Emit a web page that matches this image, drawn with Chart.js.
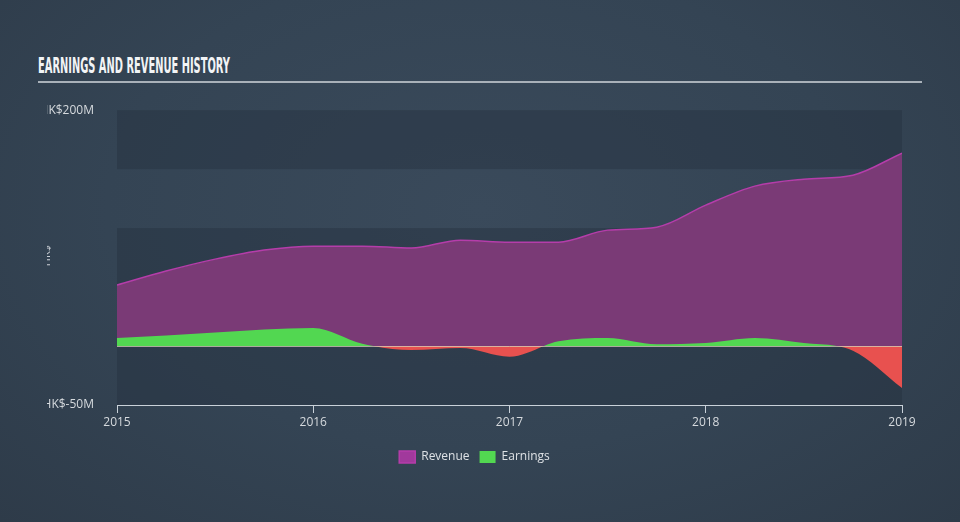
<!DOCTYPE html>
<html>
<head>
<meta charset="utf-8">
<script src="https://cdn.jsdelivr.net/npm/chart.js@4.4.1/dist/chart.umd.min.js"></script>
<style>
  html, body { margin: 0; padding: 0; }
  body {
    width: 960px; height: 522px; overflow: hidden; position: relative;
    background: radial-gradient(ellipse at 50% 40%, #3a4a5b 0%, #344454 55%, #2e3b49 100%);
  }
  #title {
    position: absolute; left: 38px; top: 56px;
    font-family: "Liberation Sans Narrow", "DejaVu Sans Condensed", sans-serif;
    font-weight: bold; font-size: 21px; line-height: 21px;
    color: #f2f4f6; white-space: nowrap; transform-origin: 0 0;
  }
  #rule { position: absolute; left: 38px; top: 81px; width: 884px; height: 2px; background: #a9b1b9; }
  #wrap { position: absolute; left: 47px; top: 88px; width: 913px; height: 385px; }
</style>
</head>
<body>
<div id="title">EARNINGS AND REVENUE HISTORY</div>
<div id="rule"></div>
<div id="wrap"><canvas id="chart"></canvas></div>
<script>
// quarterly time points (as fractional years)
const quarters = [2015, 2015.25, 2015.5, 2015.75, 2016, 2016.25, 2016.5, 2016.75,
  2017, 2017.25, 2017.5, 2017.75, 2018, 2018.25, 2018.5, 2018.75, 2019];
// HK$ millions
const revenue = [51.7, 63.6, 73.7, 81.4, 84.7, 84.7, 83.1, 89.8,
  88.1, 88.1, 98.3, 100.8, 119.5, 135.6, 141.5, 144.9, 163.6];
const earnings = [6.8, 9.0, 11.5, 14.0, 15.3, 2.0, -3.4, -1.7,
  -9.0, 4.0, 6.8, 1.5, 2.5, 6.8, 2.5, -4.0, -35.6];
const yTickLabels = { 200: "HK$200M", "-50": "HK$-50M" };

// fit title to its width in the picture
const t = document.getElementById("title");
t.style.transform = "scaleX(" + (192 / t.getBoundingClientRect().width) + ")";

const bands = {
  id: "bands",
  beforeDatasetsDraw(chart) {
    const { ctx, chartArea: a, scales: { y } } = chart;
    ctx.save();
    ctx.fillStyle = "rgba(36,48,62,0.42)";
    [[200, 150], [100, 50], [0, -50]].forEach(([hi, lo]) => {
      const top = y.getPixelForValue(hi), bot = y.getPixelForValue(lo);
      ctx.fillRect(a.left, top, a.right - a.left, bot - top);
    });
    ctx.restore();
  },
  afterDatasetsDraw(chart) {
    const { ctx, chartArea: a, scales: { y } } = chart;
    const z = Math.round(y.getPixelForValue(0)) + 0.5;
    ctx.save();
    ctx.strokeStyle = "rgba(215,210,185,0.75)";
    ctx.lineWidth = 1;
    ctx.beginPath();
    ctx.moveTo(a.left, z);
    ctx.lineTo(a.right, z);
    ctx.stroke();
    // clipped axis title at the far left
    ctx.translate(0, (a.top + a.bottom) / 2 - 2);
    ctx.rotate(-Math.PI / 2);
    ctx.fillStyle = "#c9ced4";
    ctx.font = "11px 'Open Sans', sans-serif";
    ctx.textAlign = "center";
    ctx.textBaseline = "middle";
    ctx.fillText("HK$", 0, 0);
    ctx.restore();
  }
};

new Chart(document.getElementById("chart"), {
  type: "line",
  data: {
    datasets: [
      {
        label: "Revenue",
        data: quarters.map((q, i) => ({ x: q, y: revenue[i] })),
        borderColor: "#b53daa",
        borderWidth: 1.5,
        backgroundColor: "#a1399c",
        fill: { target: "origin", above: "#7a3a76", below: "#7a3a76" },
        cubicInterpolationMode: "monotone",
        pointRadius: 0,
        order: 1
      },
      {
        label: "Earnings",
        data: quarters.map((q, i) => ({ x: q, y: earnings[i] })),
        borderColor: "rgba(0,0,0,0)",
        borderWidth: 0,
        backgroundColor: "#52d751",
        fill: { target: "origin", above: "#52d751", below: "#e8514f" },
        cubicInterpolationMode: "monotone",
        pointRadius: 0,
        order: 0
      }
    ]
  },
  options: {
    responsive: true,
    maintainAspectRatio: false,
    animation: false,
    layout: { padding: { top: 10, right: 58, left: 0, bottom: 0 } },
    plugins: {
      tooltip: { enabled: false },
      legend: {
        position: "bottom",
        reverse: true,
        labels: {
          color: "#dde1e5",
          font: { family: "'Open Sans', sans-serif", size: 12 },
          boxWidth: 16,
          boxHeight: 12,
          padding: 10
        }
      }
    },
    scales: {
      x: {
        type: "linear",
        min: 2015,
        max: 2019,
        ticks: {
          stepSize: 1,
          color: "#d6dade",
          font: { family: "'Open Sans', sans-serif", size: 12 },
          padding: 2,
          maxRotation: 0,
          callback: v => String(v)
        },
        grid: { display: true, drawOnChartArea: false, color: "#c9d1d9", tickLength: 8 },
        border: { color: "#c9d1d9", width: 1 },
        afterFit: s => { s.height = 36; }
      },
      y: {
        min: -50,
        max: 200,
        ticks: {
          stepSize: 50,
          color: "#d6dade",
          font: { family: "'Open Sans', sans-serif", size: 12 },
          padding: 15,
          callback: v => yTickLabels[v] || ""
        },
        grid: { display: false },
        border: { display: false },
        afterFit: s => { s.width = 70; }
      }
    }
  },
  plugins: [bands]
});
</script>
</body>
</html>
